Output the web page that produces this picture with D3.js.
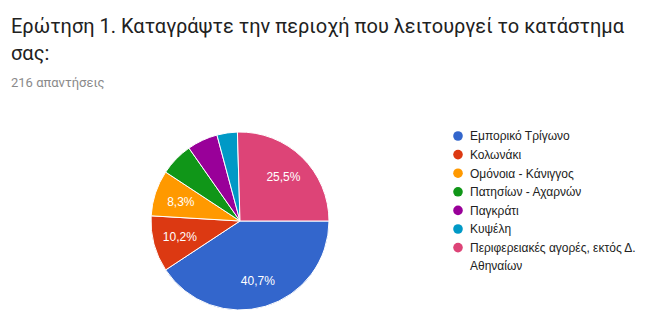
<!DOCTYPE html>
<html>
    <head>
        <meta charset="UTF-8">
        <title>Ερώτηση 1</title>
        <style>
            body { margin: 0; background: #fff; }
        </style>
    </head>
    <body>
        <script src="https://d3js.org/d3.v7.min.js"></script>
        <svg></svg>
        <script>
            let categories = ["Εμπορικό Τρίγωνο", "Κολωνάκι", "Ομόνοια - Κάνιγγος", "Πατησίων - Αχαρνών",
                              "Παγκράτι", "Κυψέλη", "Περιφερειακές αγορές, εκτός Δ. Αθηναίων"];
            let counts = [88, 22, 18, 13, 12, 8, 55];
            let colors = ["#3366cc", "#dc3912", "#ff9900", "#109618", "#990099", "#0099c6", "#dd4477"];
            let total = 216;

            let width = 652, height = 318;
            let svg = d3.select("svg")
                .attr("width", width)
                .attr("height", height)
                .style("display", "block");

            // title
            svg.append("text")
                .attr("x", 11)
                .attr("y", 33)
                .attr("font-family", "Roboto")
                .attr("font-size", 20)
                .attr("fill", "#212121")
                .text("Ερώτηση 1. Καταγράψτε την περιοχή που λειτουργεί το κατάστημα");
            svg.append("text")
                .attr("x", 11)
                .attr("y", 60)
                .attr("font-family", "Roboto")
                .attr("font-size", 20)
                .attr("fill", "#212121")
                .text("σας:");
            svg.append("text")
                .attr("x", 11)
                .attr("y", 87)
                .attr("font-family", "Roboto")
                .attr("font-size", 13)
                .attr("fill", "#8a8a8a")
                .text(total + " απαντήσεις");

            // pie
            let cx = 240, cy = 221, radius = 89;
            let pie = d3.pie()
                .sort(null)
                .startAngle(Math.PI / 2)
                .endAngle(Math.PI / 2 + 2 * Math.PI);
            let arcs = pie(counts);
            let arc = d3.arc().innerRadius(0).outerRadius(radius);
            let labelArc = d3.arc().innerRadius(radius * 0.7).outerRadius(radius * 0.7);

            let g = svg.append("g")
                .attr("transform", "translate(" + cx + "," + cy + ")");

            g.selectAll("path")
                .data(arcs)
                .enter()
                .append("path")
                .attr("d", arc)
                .attr("fill", (d, i) => colors[i])
                .attr("stroke", "#fff")
                .attr("stroke-width", 1);

            let fmt = v => (Math.round(v / total * 1000) / 10).toFixed(1).replace(".", ",") + "%";
            g.selectAll("text.pct")
                .data(arcs.filter(d => d.value / total > 0.07))
                .enter()
                .append("text")
                .attr("class", "pct")
                .attr("transform", d => "translate(" + labelArc.centroid(d) + ")")
                .attr("text-anchor", "middle")
                .attr("dy", "0.35em")
                .attr("font-family", "Arial, Liberation Sans")
                .attr("font-size", 12)
                .attr("fill", "#fff")
                .text(d => fmt(d.value));

            // legend
            let yLegend = d3.scalePoint()
                .domain(d3.range(categories.length))
                .range([136, 247.6]);

            let legend = svg.append("g");
            let items = legend.selectAll("g")
                .data(categories)
                .enter()
                .append("g")
                .attr("transform", (d, i) => "translate(458," + yLegend(i) + ")");
            items.append("circle")
                .attr("r", 4.8)
                .attr("fill", (d, i) => colors[i]);
            items.each(function(d) {
                let t = d3.select(this).append("text")
                    .attr("x", 12)
                    .attr("y", 4.3)
                    .attr("font-family", "Arial, Liberation Sans")
                    .attr("font-size", 12)
                    .attr("fill", "#222");
                let parts = d === categories[6] ? ["Περιφερειακές αγορές, εκτός Δ.", "Αθηναίων"] : [d];
                parts.forEach((p, k) => {
                    t.append("tspan").attr("x", 12).attr("dy", k ? 18 : 0).text(p);
                });
            });
        </script>
    </body>
</html>
